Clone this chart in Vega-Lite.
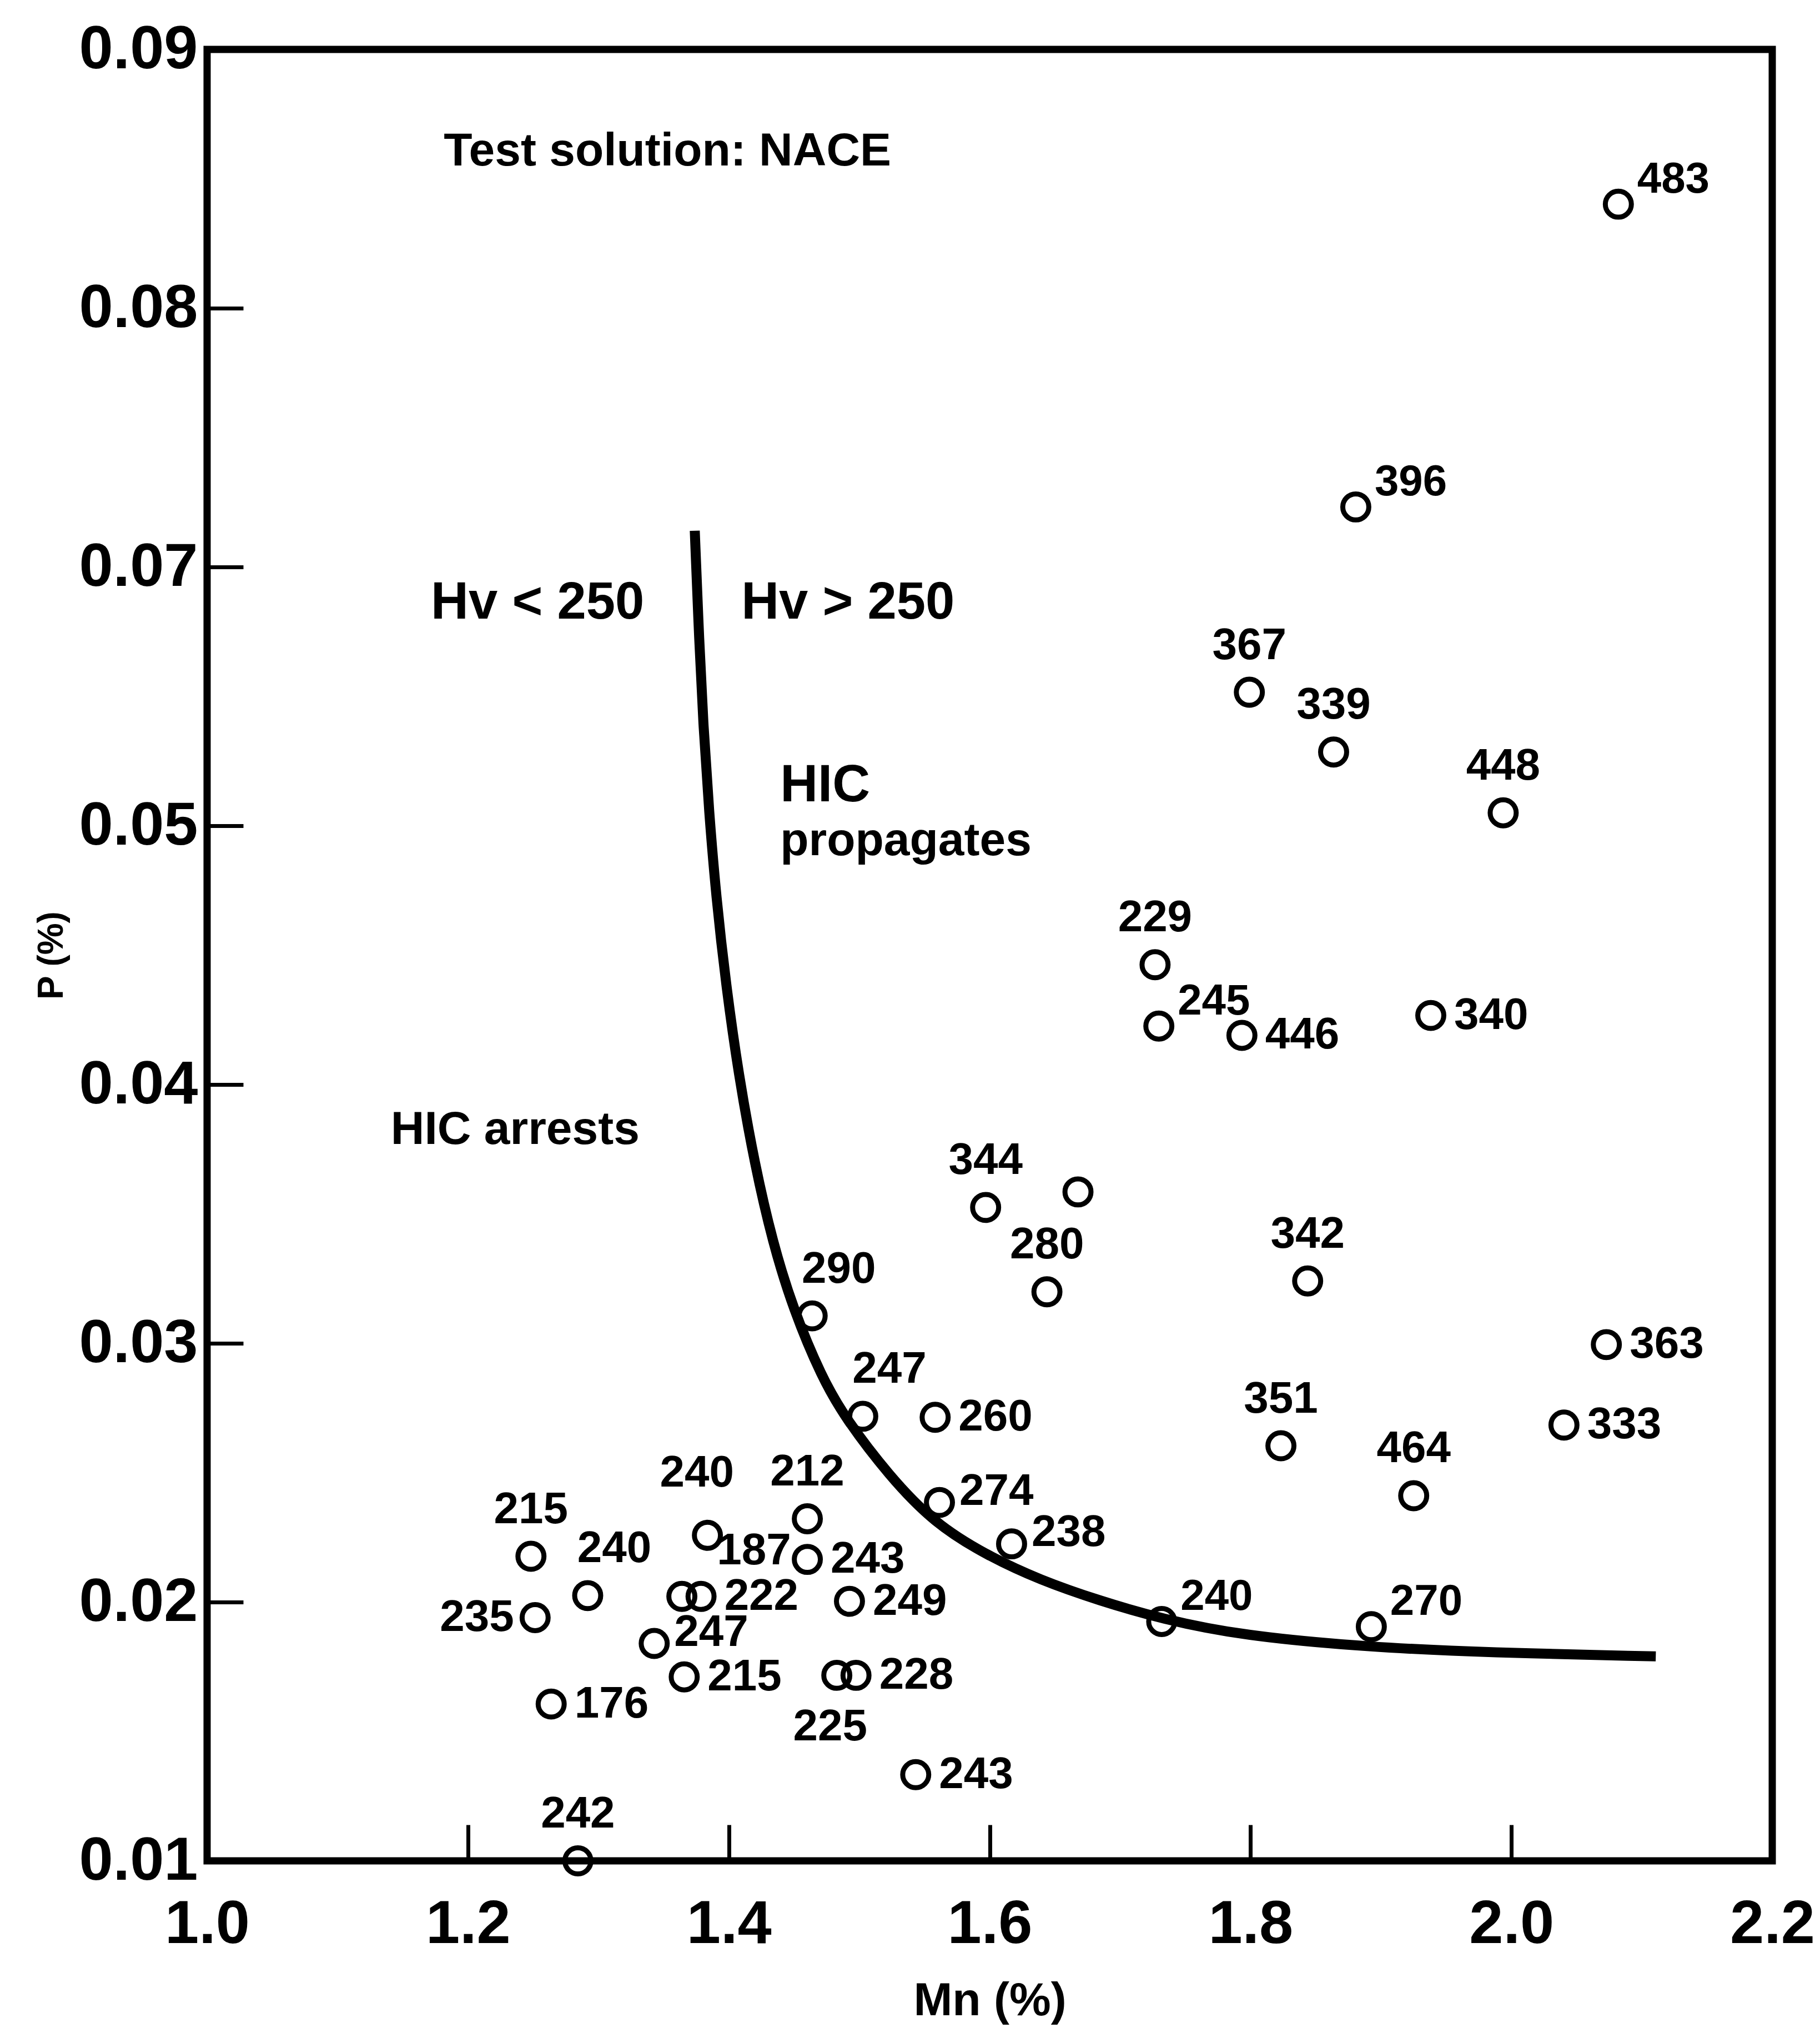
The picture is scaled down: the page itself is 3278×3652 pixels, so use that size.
{
  "$schema": "https://vega.github.io/schema/vega-lite/v6.json",
  "width": 2819,
  "height": 3262,
  "autosize": "none",
  "padding": {"left": 373, "top": 89, "right": 86, "bottom": 301},
  "background": "white",
  "datasets": {
    "curve": [
      {"Mn": 1.3739, "P": 0.0714}, {"Mn": 1.3773, "P": 0.0642}, {"Mn": 1.3805, "P": 0.0577},
      {"Mn": 1.3848, "P": 0.0511}, {"Mn": 1.3903, "P": 0.04725}, {"Mn": 1.3977, "P": 0.0439},
      {"Mn": 1.4074, "P": 0.0404}, {"Mn": 1.4199, "P": 0.0369}, {"Mn": 1.4336, "P": 0.0339},
      {"Mn": 1.4495, "P": 0.0313}, {"Mn": 1.4711, "P": 0.0287}, {"Mn": 1.4894, "P": 0.0271},
      {"Mn": 1.5226, "P": 0.0249}, {"Mn": 1.5574, "P": 0.02305}, {"Mn": 1.598, "P": 0.0218},
      {"Mn": 1.6387, "P": 0.02085}, {"Mn": 1.6843, "P": 0.02005}, {"Mn": 1.7319, "P": 0.01935},
      {"Mn": 1.7934, "P": 0.0187}, {"Mn": 1.8926, "P": 0.01825}, {"Mn": 1.9818, "P": 0.01805},
      {"Mn": 2.1107, "P": 0.0179}
    ],
    "above": [
      {"Mn": 1.7268, "P": 0.04463, "Hv": "229"},
      {"Mn": 1.5969, "P": 0.03525, "Hv": "344"},
      {"Mn": 1.6439, "P": 0.03199, "Hv": "280"},
      {"Mn": 1.8438, "P": 0.03241, "Hv": "342"},
      {"Mn": 1.8233, "P": 0.02604, "Hv": "351"},
      {"Mn": 1.9251, "P": 0.02411, "Hv": "464"},
      {"Mn": 1.7991, "P": 0.06032, "Hv": "367"},
      {"Mn": 1.8637, "P": 0.0557, "Hv": "339"},
      {"Mn": 1.9937, "P": 0.051, "Hv": "448"},
      {"Mn": 1.2483, "P": 0.02177, "Hv": "215"},
      {"Mn": 1.4602, "P": 0.02322, "Hv": "212"},
      {"Mn": 1.2843, "P": 0.01, "Hv": "242"}
    ],
    "aboveHigh": [
      {"Mn": 1.3836, "P": 0.02258, "Hv": "240"}
    ],
    "aboveRight": [
      {"Mn": 1.4639, "P": 0.03106, "Hv": "290"},
      {"Mn": 1.5027, "P": 0.02718, "Hv": "247"},
      {"Mn": 1.2918, "P": 0.02025, "Hv": "240"}
    ],
    "superRight": [
      {"Mn": 2.082, "P": 0.08402, "Hv": "483"},
      {"Mn": 1.8807, "P": 0.07232, "Hv": "396"},
      {"Mn": 1.7297, "P": 0.04226, "Hv": "245"},
      {"Mn": 1.7319, "P": 0.01925, "Hv": "240"},
      {"Mn": 1.8926, "P": 0.01905, "Hv": "270"}
    ],
    "rightUp": [
      {"Mn": 1.5615, "P": 0.02385, "Hv": "274"},
      {"Mn": 1.6168, "P": 0.02225, "Hv": "238"},
      {"Mn": 1.3428, "P": 0.0184, "Hv": "247"}
    ],
    "right": [
      {"Mn": 1.9382, "P": 0.04267, "Hv": "340"},
      {"Mn": 1.7934, "P": 0.0419, "Hv": "446"},
      {"Mn": 2.0728, "P": 0.02995, "Hv": "363"},
      {"Mn": 2.0403, "P": 0.02684, "Hv": "333"},
      {"Mn": 1.5582, "P": 0.02714, "Hv": "260"},
      {"Mn": 1.3787, "P": 0.02022, "Hv": "222"},
      {"Mn": 1.4925, "P": 0.02003, "Hv": "249"},
      {"Mn": 1.4975, "P": 0.01717, "Hv": "228"},
      {"Mn": 1.5433, "P": 0.01333, "Hv": "243"},
      {"Mn": 1.2638, "P": 0.01606, "Hv": "176"},
      {"Mn": 1.3658, "P": 0.01711, "Hv": "215"},
      {"Mn": 1.4602, "P": 0.02165, "Hv": "243"}
    ],
    "left": [
      {"Mn": 1.2515, "P": 0.0194, "Hv": "235"}
    ],
    "below": [
      {"Mn": 1.4828, "P": 0.01717, "Hv": "225"}
    ],
    "farUpRight": [
      {"Mn": 1.364, "P": 0.02022, "Hv": "187"}
    ],
    "unlabeled": [
      {"Mn": 1.6677, "P": 0.03585}
    ],
    "notes": [
      {"Mn": 1.1815, "P": 0.08605, "text": "Test solution: NACE"},
      {"Mn": 1.4394, "P": 0.0494, "text": "propagates"},
      {"Mn": 1.1408, "P": 0.03825, "text": "HIC arrests"}
    ],
    "notesLarge": [
      {"Mn": 1.1716, "P": 0.0672, "text": "Hv < 250"},
      {"Mn": 1.4096, "P": 0.0672, "text": "Hv > 250"},
      {"Mn": 1.4394, "P": 0.0531, "text": "HIC"}
    ]
  },
  "encoding": {
    "x": {
      "field": "Mn", "type": "quantitative",
      "scale": {"domain": [1.0, 2.2], "nice": false, "zero": false},
      "axis": {
        "title": "Mn (%)", "values": [1.0, 1.2, 1.4, 1.6, 1.8, 2.0, 2.2], "format": ".1f",
        "labelFlush": false, "labelOverlap": false, "labelPadding": 125,
        "titleFontSize": 84, "titlePadding": 42
      }
    },
    "y": {
      "field": "P", "type": "quantitative",
      "scale": {"domain": [0.01, 0.05, 0.07, 0.09], "range": [3262, 1398, 932, 0], "nice": false, "zero": false},
      "axis": {
        "title": "P (%)", "values": [0.01, 0.02, 0.03, 0.04, 0.05, 0.07, 0.08, 0.09], "format": ".2f",
        "labelFlush": false, "labelOverlap": false, "labelPadding": 82,
        "titleFontSize": 64, "titlePadding": 48
      }
    }
  },
  "layer": [
    {
      "data": {"name": "curve"},
      "mark": {"type": "line", "color": "black", "strokeWidth": 18, "interpolate": "basis", "strokeCap": "butt"},
      "encoding": {}
    },
    {
      "data": {"name": "unlabeled"},
      "mark": {"type": "point", "shape": "circle", "filled": false, "color": "black", "size": 2200, "strokeWidth": 9, "opacity": 1},
      "encoding": {}
    },
    {
      "data": {"name": "above"},
      "layer": [
        {"mark": {"type": "point", "shape": "circle", "filled": false, "color": "black", "size": 2200, "strokeWidth": 9, "opacity": 1}},
        {"mark": {"type": "text", "fontSize": 80, "align": "center", "baseline": "middle", "dy": -84}, "encoding": {"text": {"field": "Hv"}}}
      ]
    },
    {
      "data": {"name": "aboveHigh"},
      "layer": [
        {"mark": {"type": "point", "shape": "circle", "filled": false, "color": "black", "size": 2200, "strokeWidth": 9, "opacity": 1}},
        {"mark": {"type": "text", "fontSize": 80, "align": "center", "baseline": "middle", "dx": -19, "dy": -112}, "encoding": {"text": {"field": "Hv"}}}
      ]
    },
    {
      "data": {"name": "aboveRight"},
      "layer": [
        {"mark": {"type": "point", "shape": "circle", "filled": false, "color": "black", "size": 2200, "strokeWidth": 9, "opacity": 1}},
        {"mark": {"type": "text", "fontSize": 80, "align": "center", "baseline": "middle", "dx": 48, "dy": -84}, "encoding": {"text": {"field": "Hv"}}}
      ]
    },
    {
      "data": {"name": "superRight"},
      "layer": [
        {"mark": {"type": "point", "shape": "circle", "filled": false, "color": "black", "size": 2200, "strokeWidth": 9, "opacity": 1}},
        {"mark": {"type": "text", "fontSize": 78, "align": "left", "baseline": "middle", "dx": 34, "dy": -44}, "encoding": {"text": {"field": "Hv"}}}
      ]
    },
    {
      "data": {"name": "rightUp"},
      "layer": [
        {"mark": {"type": "point", "shape": "circle", "filled": false, "color": "black", "size": 2200, "strokeWidth": 9, "opacity": 1}},
        {"mark": {"type": "text", "fontSize": 80, "align": "left", "baseline": "middle", "dx": 36, "dy": -20}, "encoding": {"text": {"field": "Hv"}}}
      ]
    },
    {
      "data": {"name": "right"},
      "layer": [
        {"mark": {"type": "point", "shape": "circle", "filled": false, "color": "black", "size": 2200, "strokeWidth": 9, "opacity": 1}},
        {"mark": {"type": "text", "fontSize": 80, "align": "left", "baseline": "middle", "dx": 42}, "encoding": {"text": {"field": "Hv"}}}
      ]
    },
    {
      "data": {"name": "left"},
      "layer": [
        {"mark": {"type": "point", "shape": "circle", "filled": false, "color": "black", "size": 2200, "strokeWidth": 9, "opacity": 1}},
        {"mark": {"type": "text", "fontSize": 80, "align": "right", "baseline": "middle", "dx": -38}, "encoding": {"text": {"field": "Hv"}}}
      ]
    },
    {
      "data": {"name": "below"},
      "layer": [
        {"mark": {"type": "point", "shape": "circle", "filled": false, "color": "black", "size": 2200, "strokeWidth": 9, "opacity": 1}},
        {"mark": {"type": "text", "fontSize": 80, "align": "center", "baseline": "middle", "dx": -12, "dy": 93}, "encoding": {"text": {"field": "Hv"}}}
      ]
    },
    {
      "data": {"name": "farUpRight"},
      "layer": [
        {"mark": {"type": "point", "shape": "circle", "filled": false, "color": "black", "size": 2200, "strokeWidth": 9, "opacity": 1}},
        {"mark": {"type": "text", "fontSize": 80, "align": "center", "baseline": "middle", "dx": 130, "dy": -82}, "encoding": {"text": {"field": "Hv"}}}
      ]
    },
    {
      "data": {"name": "notes"},
      "mark": {"type": "text", "fontSize": 84, "align": "left", "baseline": "middle"},
      "encoding": {"text": {"field": "text"}}
    },
    {
      "data": {"name": "notesLarge"},
      "mark": {"type": "text", "fontSize": 94, "align": "left", "baseline": "middle"},
      "encoding": {"text": {"field": "text"}}
    }
  ],
  "config": {
    "view": {"stroke": "black", "strokeWidth": 13},
    "axis": {
      "domain": false, "grid": false, "ticks": true,
      "tickColor": "black", "tickWidth": 7, "tickSize": -65,
      "labelColor": "black", "labelFont": "Liberation Sans", "labelFontWeight": "bold", "labelFontSize": 110,
      "labelLimit": 600,
      "titleColor": "black", "titleFont": "Liberation Sans", "titleFontWeight": "bold"
    },
    "text": {"font": "Liberation Sans", "fontWeight": "bold", "color": "black"}
  }
}
